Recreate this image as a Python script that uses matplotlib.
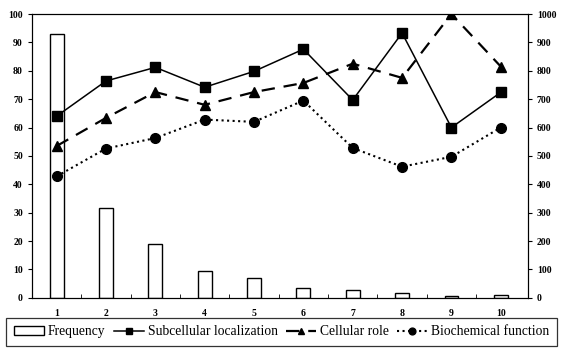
import numpy as np
import matplotlib.pyplot as plt

plt.rcParams['font.family'] = ['Liberation Serif', 'DejaVu Serif']

# Datos
clases = [1, 2, 3, 4, 5, 6, 7, 8, 9, 10]
frecuencia = [93, 31.8, 19, 9.6, 7, 3.5, 2.6, 1.8, 0.6, 0.9]          # eje izquierdo
subcelular = [640, 764, 812, 742, 798, 876, 697, 933, 600, 724]        # eje derecho
rol_celular = [535, 634, 725, 680, 725, 757, 825, 775, 1000, 815]
bioquimica = [428, 526, 563, 628, 620, 695, 528, 462, 497, 600]

fig = plt.figure(figsize=(5.61, 3.5), dpi=100)
ax = fig.add_axes([0.057, 0.149, 0.884, 0.811])
ax2 = ax.twinx()

x = np.array(clases)
barras = ax.bar(x, frecuencia, width=0.28, color='white', edgecolor='black',
                linewidth=1.0, label='Frequency')
l1, = ax2.plot(x, subcelular, '-', color='black', lw=1.1, marker='s',
               markersize=7, label='Subcellular localization')
l2, = ax2.plot(x, rol_celular, '--', color='black', lw=1.6, dashes=(6, 4),
               marker='^', markersize=7, label='Cellular role')
l3, = ax2.plot(x, bioquimica, ':', color='black', lw=1.5, marker='o',
               markersize=7, label='Biochemical function')

ax.set_xlim(0.5, 10.55)
ax.set_ylim(0, 100)
ax2.set_ylim(0, 1000)
ax.set_yticks(range(0, 101, 10))
ax2.set_yticks(range(0, 1001, 100))
ax.set_xticks(x)
ax.set_xticks(np.arange(1.5, 10.5, 1), minor=True)

for a in (ax, ax2):
    a.tick_params(labelsize=7, width=0.8, length=3)
    for lab in a.get_yticklabels() + a.get_xticklabels():
        lab.set_fontweight('bold')
    for s in a.spines.values():
        s.set_linewidth(0.8)
ax.tick_params(axis='x', which='major', length=0, pad=8)
ax.tick_params(axis='x', which='minor', length=3, direction='in')

leg = fig.legend([barras, l1, l2, l3],
                 ['Frequency', 'Subcellular localization', 'Cellular role',
                  'Biochemical function'],
                 loc='upper center', bbox_to_anchor=(0.502, 0.092), ncol=4,
                 fontsize=9.8, frameon=True, fancybox=False, edgecolor='black',
                 handlelength=2.2, columnspacing=0.6, handletextpad=0.3,
                 borderpad=0.55, markerscale=0.7, borderaxespad=0.0)
leg.get_frame().set_linewidth(0.9)

fig.savefig('out.png', dpi=100)
